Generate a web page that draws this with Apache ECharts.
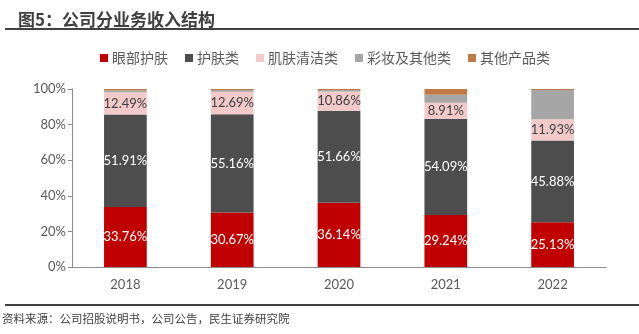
<!DOCTYPE html>
<html>
<head>
<meta charset="utf-8">
<script src="https://cdn.jsdelivr.net/npm/echarts@6/dist/echarts.min.js"></script>
<style>
  html, body { margin: 0; padding: 0; background: #fff; }
  #chart { width: 639px; height: 334px; }
</style>
</head>
<body>
<div id="chart"></div>
<script>
// Revenue mix by business line, share of total (%)
const years = ['2018', '2019', '2020', '2021', '2022'];
const eyeCare = [33.76, 30.67, 36.14, 29.24, 25.13];
const skinCare = [51.91, 55.16, 51.66, 54.09, 45.88];
const cleansing = [12.49, 12.69, 10.86, 8.91, 11.93];
const makeupOther = [1.14, 0.90, 0.80, 4.46, 16.46];
const otherProducts = [0.70, 0.58, 0.54, 3.30, 0.60];

const seriesNames = ['眼部护肤', '护肤类', '肌肤清洁类', '彩妆及其他类', '其他产品类'];
const seriesColors = ['#C00000', '#4D4D4D', '#F2CACA', '#A6A6A6', '#C07A45'];
const labelColors = ['#FFFFFF', '#FFFFFF', '#404040', null, null];
const seriesData = [eyeCare, skinCare, cleansing, makeupOther, otherProducts];

const cjk = '"Noto Sans CJK SC", "Noto Sans", sans-serif';
const num = 'Lato, "Open Sans", sans-serif';

const chart = echarts.init(document.getElementById('chart'), null, { renderer: 'canvas' });

chart.setOption({
  animation: false,
  backgroundColor: '#FFFFFF',
  title: {
    text: '图5：公司分业务收入结构',
    left: 13,
    top: 6,
    textStyle: { fontFamily: cjk, fontSize: 17, fontWeight: 'bold', color: '#404040' }
  },
  graphic: [
    { type: 'rect', shape: { x: 5, y: 28, width: 634, height: 2 }, style: { fill: '#404040' } },
    { type: 'rect', shape: { x: 5, y: 304, width: 634, height: 2 }, style: { fill: '#404040' } },
    {
      type: 'text', left: 2, top: 313,
      style: { text: '资料来源：公司招股说明书，公司公告，民生证券研究院', font: '11.5px ' + cjk, fill: '#404040' }
    }
  ],
  legend: {
    top: 46,
    left: 95,
    itemWidth: 8,
    itemHeight: 8,
    itemGap: 17,
    icon: 'rect',
    textStyle: { fontFamily: cjk, fontSize: 14, color: '#595959', padding: [0, 0, 0, -1] },
    data: seriesNames
  },
  grid: { left: 72, right: 33, top: 89, bottom: 67, containLabel: false },
  xAxis: {
    type: 'category',
    data: years,
    axisTick: { show: false },
    axisLine: { lineStyle: { color: '#8C8C8C', width: 1 } },
    axisLabel: { fontFamily: num, fontSize: 13, color: '#595959', margin: 11 }
  },
  yAxis: {
    type: 'value',
    min: 0,
    max: 100,
    interval: 20,
    splitLine: { show: false },
    axisLine: { show: true, lineStyle: { color: '#8C8C8C', width: 1 } },
    axisTick: { show: true, length: 4, lineStyle: { color: '#8C8C8C' } },
    axisLabel: { formatter: '{value}%', fontFamily: num, fontSize: 13, color: '#595959', margin: 6 }
  },
  series: seriesNames.map((name, i) => ({
    name: name,
    type: 'bar',
    stack: 'total',
    barWidth: '40%',
    data: seriesData[i],
    itemStyle: { color: seriesColors[i] },
    label: {
      show: labelColors[i] !== null,
      position: 'inside',
      color: labelColors[i] || '#000',
      fontFamily: num,
      fontSize: 13,
      formatter: p => p.value.toFixed(2) + '%'
    }
  }))
});
</script>
</body>
</html>
